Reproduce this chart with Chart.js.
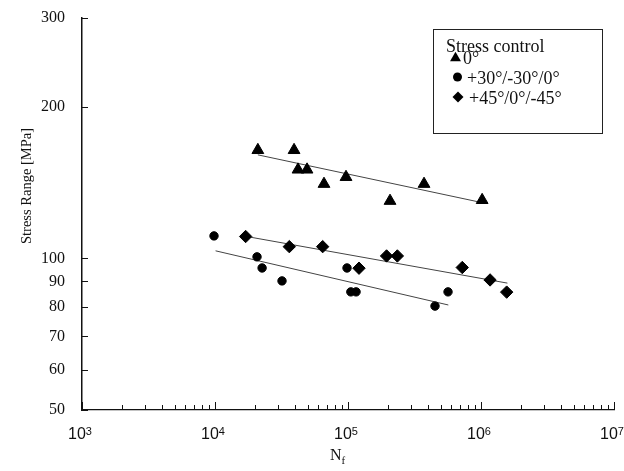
<!DOCTYPE html>
<html>
<head>
<meta charset="utf-8">
<script src="https://cdn.jsdelivr.net/npm/chart.js@4.4.1/dist/chart.umd.min.js"></script>
<style>
  html, body { margin: 0; padding: 0; background: #fff; }
  canvas { display: block; }
</style>
</head>
<body>
<canvas id="chart" width="624" height="471"></canvas>
<script>
// cycles to failure (Nf) and stress range [MPa]
const triN = [21000, 39300, 42100, 49200, 66000, 96600, 207000, 373000, 1020000];
const triS = [164, 164, 150, 150, 140.5, 145, 130, 140.5, 130.5];
const cirN = [9830, 20700, 22600, 31900, 98300, 105000, 115000, 565000, 451000];
const cirS = [110.8, 100.7, 95.7, 90.2, 95.7, 85.8, 85.8, 85.8, 80.4];
const diaN = [17000, 36200, 64500, 121000, 195000, 235000, 723000, 1170000, 1560000];
const diaS = [110.5, 105.5, 105.5, 95.6, 101.1, 101.1, 95.9, 90.6, 85.7];

// fitted lines, end points
const triFitN = [21000, 1020000];
const triFitS = [160.5, 129];
const cirFitN = [10100, 568000];
const cirFitS = [103.5, 80.8];
const diaFitN = [17300, 1580000];
const diaFitS = [110.5, 89.3];

const yTicks = [50, 60, 70, 80, 90, 100, 200, 300];
const xDecades = [1e3, 1e4, 1e5, 1e6, 1e7];
const xExponents = ['3', '4', '5', '6', '7'];
const minorSteps = [2, 3, 4, 5, 6, 7, 8, 9];

const legendTitle = 'Stress control';
const seriesLabels = ['0°', '+30°/-30°/0°', '+45°/0°/-45°'];
const seriesStyles = ['triangle', 'circle', 'rectRot'];

const pts = (ns, ss) => ns.map((n, i) => ({ x: n, y: ss[i] }));

function markers(label, ns, ss, style, r) {
  return {
    label, data: pts(ns, ss), pointStyle: style, pointRadius: r,
    backgroundColor: '#000', borderColor: '#000', borderWidth: 1,
    showLine: false, order: 1
  };
}
function fit(ns, ss) {
  return {
    data: pts(ns, ss), showLine: true, pointRadius: 0,
    borderColor: '#444', borderWidth: 1, order: 2
  };
}

const SERIF = '"Liberation Serif", "Times New Roman", serif';
const SANS = '"Liberation Sans", Arial, sans-serif';

const decor = {
  id: 'decor',
  afterDraw(chart) {
    const ctx = chart.ctx;
    const xs = chart.scales.x, ys = chart.scales.y;
    const a = chart.chartArea;
    ctx.save();

    // inward tick marks
    ctx.strokeStyle = '#111';
    ctx.lineWidth = 1;
    ctx.beginPath();
    yTicks.forEach(v => {
      const py = Math.round(ys.getPixelForValue(v)) + 0.5;
      ctx.moveTo(a.left, py);
      ctx.lineTo(a.left + 6, py);
    });
    xDecades.forEach((d, i) => {
      const px = Math.round(xs.getPixelForValue(d)) + 0.5;
      ctx.moveTo(px, a.bottom);
      ctx.lineTo(px, a.bottom - 8);
      if (i < xDecades.length - 1) {
        minorSteps.forEach(m => {
          const mx = Math.round(xs.getPixelForValue(d * m)) + 0.5;
          ctx.moveTo(mx, a.bottom);
          ctx.lineTo(mx, a.bottom - 5);
        });
      }
    });
    ctx.stroke();

    // x tick labels: 10 with superscript exponent
    ctx.fillStyle = '#111';
    ctx.textAlign = 'left';
    ctx.textBaseline = 'alphabetic';
    xDecades.forEach((d, i) => {
      const px = xs.getPixelForValue(d);
      ctx.font = '16px ' + SANS;
      const w1 = ctx.measureText('10').width;
      ctx.font = '11px ' + SANS;
      const w2 = ctx.measureText(xExponents[i]).width;
      const x0 = px - (w1 + w2) / 2 - 2;
      ctx.font = '16px ' + SANS;
      ctx.fillText('10', x0, a.bottom + 29);
      ctx.font = '11px ' + SANS;
      ctx.fillText(xExponents[i], x0 + w1, a.bottom + 25);
    });

    // x title N_f
    ctx.font = '16px ' + SERIF;
    const wN = ctx.measureText('N').width;
    ctx.fillText('N', 330, a.bottom + 50);
    ctx.font = '11px ' + SERIF;
    ctx.fillText('f', 330 + wN, a.bottom + 54);

    // y title
    ctx.save();
    ctx.translate(27, 186);
    ctx.rotate(-Math.PI / 2);
    ctx.font = '14.5px ' + SERIF;
    ctx.textAlign = 'center';
    ctx.textBaseline = 'middle';
    ctx.fillText('Stress Range [MPa]', 0, 0);
    ctx.restore();

    // legend box
    ctx.lineWidth = 1;
    ctx.strokeStyle = '#222';
    ctx.strokeRect(433.5, 29.5, 169, 104);
    ctx.font = '18px ' + SERIF;
    ctx.textAlign = 'left';
    ctx.fillText(legendTitle, 446, 52);
    const rows = [
      { mx: 455.5, my: 58, r: 6.3, tx: 463, ty: 64 },
      { mx: 457.5, my: 77, r: 4.5, tx: 467, ty: 83.5 },
      { mx: 458, my: 97, r: 5.5, tx: 469, ty: 103.5 }
    ];
    rows.forEach((row, i) => {
      ctx.fillStyle = '#000';
      ctx.strokeStyle = '#000';
      Chart.helpers.drawPoint(ctx, { pointStyle: seriesStyles[i], radius: row.r, borderWidth: 0, rotation: 0 }, row.mx, row.my);
      ctx.fillStyle = '#111';
      ctx.font = '18px ' + SERIF;
      ctx.fillText(seriesLabels[i], row.tx, row.ty);
    });

    ctx.restore();
  }
};

new Chart(document.getElementById('chart'), {
  type: 'scatter',
  data: {
    datasets: [
      fit(triFitN, triFitS),
      fit(cirFitN, cirFitS),
      fit(diaFitN, diaFitS),
      markers(seriesLabels[0], triN, triS, 'triangle', 6.8),
      markers(seriesLabels[1], cirN, cirS, 'circle', 4.2),
      markers(seriesLabels[2], diaN, diaS, 'rectRot', 6.2)
    ]
  },
  options: {
    responsive: false,
    animation: false,
    events: [],
    layout: { padding: { top: 18, right: 10, left: 0, bottom: 0 } },
    plugins: { legend: { display: false }, tooltip: { enabled: false } },
    scales: {
      x: {
        type: 'logarithmic', min: 1e3, max: 1e7,
        grid: { display: false, drawTicks: false },
        border: { display: true, color: '#111', width: 1.3 },
        ticks: { display: false },
        afterFit(s) { s.height = 61; }
      },
      y: {
        type: 'logarithmic', min: 50, max: 300,
        grid: { display: false, drawTicks: false },
        border: { display: true, color: '#111', width: 1.5 },
        afterBuildTicks(s) { s.ticks = yTicks.map(v => ({ value: v })); },
        ticks: {
          padding: 17, color: '#111',
          font: { family: SERIF, size: 16 },
          callback: v => String(v)
        },
        afterFit(s) {
          s.width = 82;
          s.paddingTop = 0;
          s.paddingBottom = 0;
        }
      }
    }
  },
  plugins: [decor]
});
</script>
</body>
</html>
